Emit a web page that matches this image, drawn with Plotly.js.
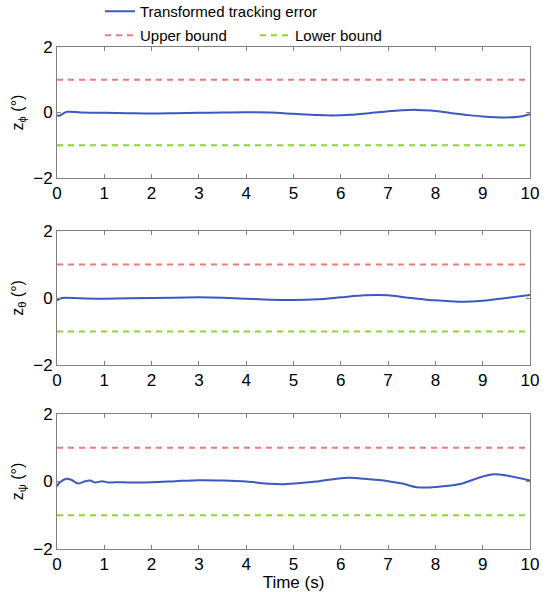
<!DOCTYPE html>
<html>
<head>
<meta charset="utf-8">
<script src="https://cdn.plot.ly/plotly-3.0.1.min.js"></script>
<style>html,body{margin:0;padding:0;background:#fff;}#chart{width:547px;height:592px;}</style>
</head>
<body>
<div id="chart"></div>
<script>
// ---- data ----
const tPhi   = [0, 0.05, 0.2, 0.5, 1, 1.5, 2, 2.5, 3, 3.5, 4, 4.5, 5, 5.5, 5.85, 6.2, 6.6, 7, 7.3, 7.6, 7.9, 8.35, 8.7, 9, 9.5, 9.8, 10];
const zPhi   = [-0.08, -0.1, 0.02, 0.0, -0.01, -0.02, -0.03, -0.02, -0.01, 0.0, 0.01, 0.0, -0.04, -0.08, -0.09, -0.07, -0.02, 0.04, 0.07, 0.08, 0.06, -0.02, -0.08, -0.12, -0.15, -0.12, -0.05];
const tTheta = [0, 0.1, 0.5, 1, 2, 3, 3.5, 4, 4.5, 5, 5.5, 6, 6.5, 6.8, 7, 7.5, 8, 8.5, 9, 9.5, 10];
const zTheta = [-0.07, 0.0, -0.01, -0.02, 0.0, 0.02, 0.01, -0.02, -0.05, -0.06, -0.04, 0.02, 0.08, 0.09, 0.08, 0.0, -0.07, -0.11, -0.08, 0.0, 0.09];
const tPsi   = [0, 0.05, 0.2, 0.3, 0.45, 0.6, 0.7, 0.8, 0.95, 1.1, 1.3, 1.5, 2, 2.5, 3, 3.5, 4, 4.5, 4.8, 5, 5.5, 6, 6.2, 6.5, 7, 7.3, 7.6, 7.8, 8, 8.5, 9, 9.2, 9.5, 10];
const zPsi   = [-0.14, -0.04, 0.08, 0.05, -0.06, 0.01, 0.03, -0.03, 0.01, -0.03, -0.02, -0.03, -0.02, 0.01, 0.04, 0.03, 0.0, -0.07, -0.08, -0.06, 0.0, 0.1, 0.11, 0.08, 0.01, -0.06, -0.17, -0.18, -0.16, -0.08, 0.15, 0.21, 0.18, 0.03];
const boundT = [0, 10];
const upper  = [1, 1];
const lower  = [-1, -1];
const xTicks = [0,1,2,3,4,5,6,7,8,9,10];
const yTicks = [-2, 0, 2];
const yTitles = ['z<sub>ϕ</sub> (°)', 'z<sub>θ</sub> (°)', 'z<sub>ψ</sub> (°)'];
const legendNames = ['Transformed tracking error', 'Upper bound', 'Lower bound'];

const blue = '#3d58c0', red = '#f07a7a', green = '#8fd43a';
const font = 'Liberation Sans, Arial, sans-serif';
const series = [[tPhi, zPhi], [tTheta, zTheta], [tPsi, zPsi]];
const traces = [];
series.forEach((s, i) => {
  const xa = i === 0 ? 'x' : 'x' + (i + 1);
  const ya = i === 0 ? 'y' : 'y' + (i + 1);
  traces.push({x: s[0], y: s[1], xaxis: xa, yaxis: ya, mode: 'lines', line: {color: blue, width: 2, shape: 'spline', smoothing: 0.8},
    name: legendNames[0], showlegend: i === 0, legend: 'legend'});
  traces.push({x: boundT, y: upper, xaxis: xa, yaxis: ya, mode: 'lines', line: {color: red, width: 2, dash: '6px,5px'},
    name: legendNames[1], showlegend: i === 0, legend: 'legend2'});
  traces.push({x: boundT, y: lower, xaxis: xa, yaxis: ya, mode: 'lines', line: {color: green, width: 2, dash: '6px,5px'},
    name: legendNames[2], showlegend: i === 0, legend: 'legend2'});
});

const W = 547, H = 592;
const xd = [57 / W, 530 / W];
const boxes = [[47, 178], [231, 365], [414, 549]];
const layout = {
  width: W, height: H,
  margin: {l: 0, r: 0, t: 0, b: 0, autoexpand: false},
  paper_bgcolor: '#fff', plot_bgcolor: '#fff',
  font: {family: font, size: 17, color: '#000'},
  legend: {x: 100 / W, xanchor: 'left', y: 1 + 5 / H, yanchor: 'top', bgcolor: 'rgba(0,0,0,0)',
    font: {family: font, size: 15, color: '#000'}, orientation: 'v'},
  legend2: {x: 100 / W, xanchor: 'left', y: 1 - 19 / H, yanchor: 'top', bgcolor: 'rgba(0,0,0,0)',
    font: {family: font, size: 15, color: '#000'}, orientation: 'h', entrywidth: 110, entrywidthmode: 'pixels'},
  showlegend: true
};
boxes.forEach((b, i) => {
  const sx = i === 0 ? '' : String(i + 1);
  layout['xaxis' + sx] = {
    domain: xd, anchor: 'y' + sx, range: [0, 10], tickvals: xTicks, ticktext: xTicks.map(String),
    ticks: 'inside', ticklen: 4, tickcolor: '#808080', showline: true, linecolor: '#808080', linewidth: 1,
    mirror: 'ticks', showgrid: false, zeroline: false, tickfont: {family: font, size: 17, color: '#000'},
    title: i === 2 ? {text: 'Time (s)', font: {family: font, size: 17, color: '#000'}, standoff: 3} : {text: ''}
  };
  layout['yaxis' + sx] = {
    domain: [1 - b[1] / H, 1 - b[0] / H], anchor: 'x' + sx, range: [-2, 2], tickvals: yTicks,
    ticks: 'inside', ticklen: 4, tickcolor: '#808080', showline: true, linecolor: '#808080', linewidth: 1,
    mirror: 'ticks', showgrid: false, zeroline: false, tickfont: {family: font, size: 17, color: '#000'},
    title: {text: yTitles[i], font: {family: font, size: 16, color: '#000'}, standoff: 5}
  };
});
Plotly.newPlot('chart', traces, layout, {staticPlot: true});
</script>
</body>
</html>
